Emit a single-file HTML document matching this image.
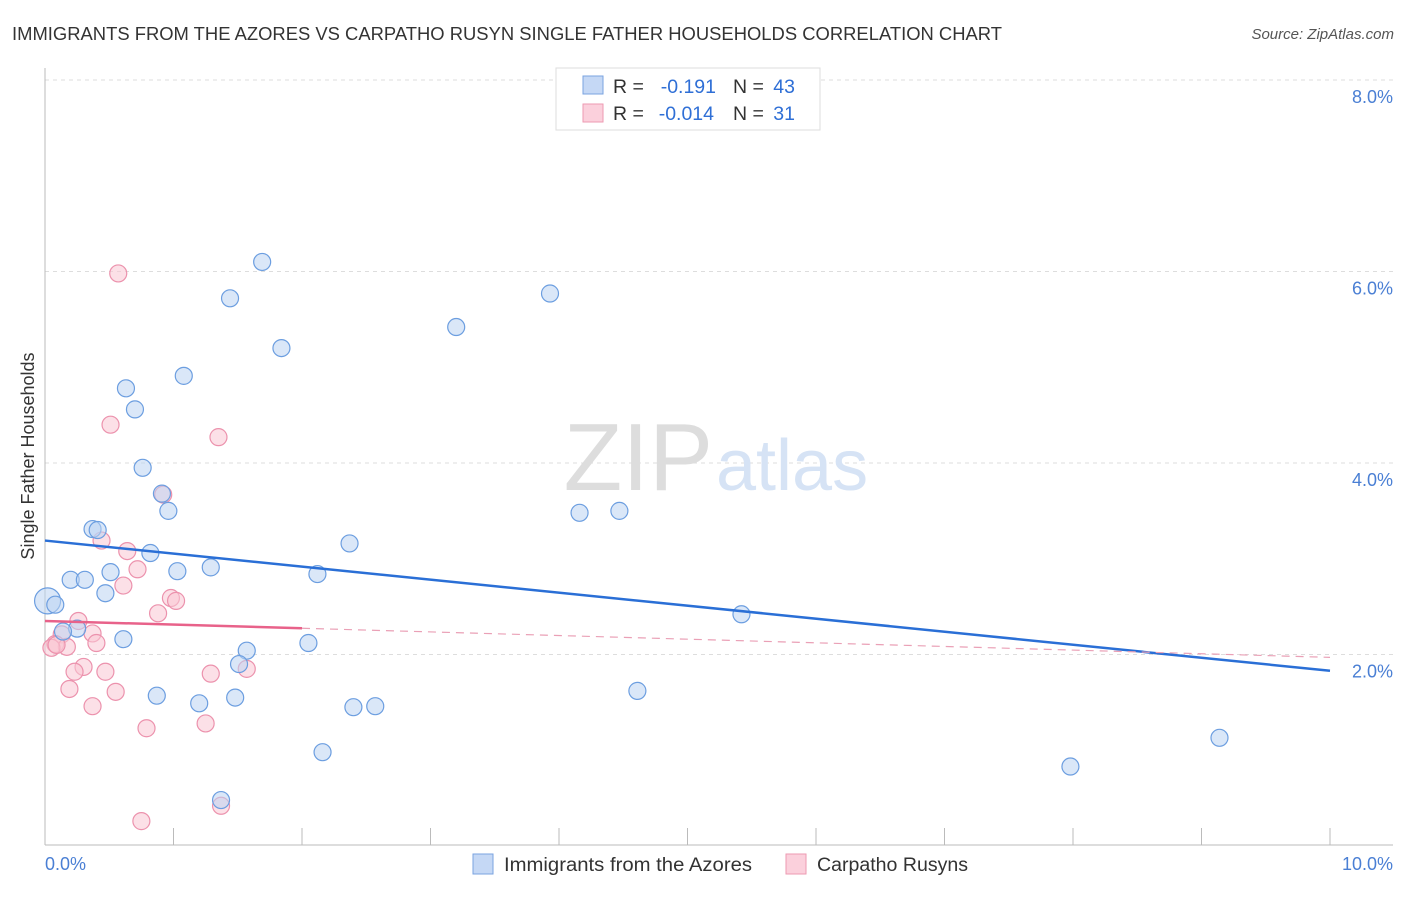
<!DOCTYPE html>
<html><head><meta charset="utf-8"><style>
body{margin:0;background:#fff;font-family:"Liberation Sans",sans-serif;}
svg text{font-family:"Liberation Sans",sans-serif;}
</style></head><body>
<svg width="1406" height="892">
<text x="12" y="40" font-size="18" fill="#333" textLength="990" lengthAdjust="spacingAndGlyphs">IMMIGRANTS FROM THE AZORES VS CARPATHO RUSYN SINGLE FATHER HOUSEHOLDS CORRELATION CHART</text>
<text x="1394" y="39" font-size="15" fill="#555" font-style="italic" text-anchor="end">Source: ZipAtlas.com</text>
<g id="grid"></g>
<text x="713" y="490" font-size="96" fill="#ddd" text-anchor="end" font-family="Liberation Serif">ZIP</text>
<text x="716" y="490" font-size="72" fill="#d6e3f5">atlas</text>
<g id="marks"></g>
<text x="34" y="456" font-size="18" fill="#333" text-anchor="middle" transform="rotate(-90 34 456)">Single Father Households</text>
<text x="45" y="870" font-size="18" fill="#4a7fd4">0.0%</text>
<text x="1393" y="870" font-size="18" fill="#4a7fd4" text-anchor="end">10.0%</text>
<g>
<rect x="556" y="68" width="264" height="62" fill="#fff" stroke="#ddd"/>
<rect x="583" y="76" width="20" height="18" fill="#c5d8f5" stroke="#7aa3e0"/>
<rect x="583" y="104" width="20" height="18" fill="#fbd0dc" stroke="#ee9ab2"/>
<text y="93" font-size="19.5" fill="#333"><tspan x="613">R =</tspan><tspan x="716" text-anchor="end" fill="#2f6fd6">-0.191</tspan><tspan x="733">N =</tspan><tspan x="795" text-anchor="end" fill="#2f6fd6">43</tspan></text>
<text y="120" font-size="19.5" fill="#333"><tspan x="613">R =</tspan><tspan x="714" text-anchor="end" fill="#2f6fd6">-0.014</tspan><tspan x="733">N =</tspan><tspan x="795" text-anchor="end" fill="#2f6fd6">31</tspan></text>
</g>
<g>
<rect x="473" y="854" width="20" height="20" fill="#c5d8f5" stroke="#7aa3e0"/>
<text x="504" y="871" font-size="19" fill="#333" textLength="248" lengthAdjust="spacingAndGlyphs">Immigrants from the Azores</text>
<rect x="786" y="854" width="20" height="20" fill="#fbd0dc" stroke="#ee9ab2"/>
<text x="817" y="871" font-size="19" fill="#333" textLength="151" lengthAdjust="spacingAndGlyphs">Carpatho Rusyns</text>
</g>
</svg>
<script>
const yTicks=[2,4,6,8];
const yTickLabels=["2.0%","4.0%","6.0%","8.0%"];
const xTicks=[0,1,2,3,4,5,6,7,8,9,10];
const blueX=[1.69,1.44,3.93,3.20,1.84,0.63,1.08,0.70,0.76,0.91,0.96,0.37,0.41,0.82,1.03,1.29,0.51,0.20,0.31,0.47,0.02,0.08,2.12,2.37,4.16,4.47,5.42,0.61,0.25,0.14,2.05,1.57,1.51,0.87,1.20,1.48,2.40,2.57,2.16,4.61,7.98,9.14,1.37];
const blueY=[6.10,5.72,5.77,5.42,5.20,4.78,4.91,4.56,3.95,3.68,3.50,3.31,3.30,3.06,2.87,2.91,2.86,2.78,2.78,2.64,2.56,2.52,2.84,3.16,3.48,3.50,2.42,2.16,2.27,2.24,2.12,2.04,1.90,1.57,1.49,1.55,1.45,1.46,0.98,1.62,0.83,1.13,0.48];
const pinkX=[0.57,0.51,1.35,0.92,0.44,0.64,0.72,0.61,0.88,0.98,1.02,0.26,0.37,0.13,0.08,0.17,0.40,0.05,0.30,0.23,0.47,1.29,1.57,0.19,0.55,0.37,1.25,0.79,0.75,1.37,0.09];
const pinkY=[5.98,4.40,4.27,3.67,3.19,3.08,2.89,2.72,2.43,2.59,2.56,2.35,2.22,2.21,2.11,2.08,2.12,2.07,1.87,1.82,1.82,1.80,1.85,1.64,1.61,1.46,1.28,1.23,0.26,0.42,2.10];
const blueTrend=[3.19,1.83];
const pinkTrend=[2.35,1.97];
const pinkSolidEnd=2.0;
const NS="http://www.w3.org/2000/svg";
const sx=v=>45+v*128.5, sy=v=>846-v*95.75;
function mk(t,a,p){const e=document.createElementNS(NS,t);for(const k in a)e.setAttribute(k,a[k]);p.appendChild(e);return e;}
const grid=document.getElementById('grid'), marks=document.getElementById('marks');
yTicks.forEach((v,i)=>{
 const l=mk('line',{x1:45,x2:1393,y1:sy(v),y2:sy(v),stroke:'#ddd','stroke-dasharray':'4,4'},grid);
 
 
 const t=mk('text',{x:1393,y:sy(v)+23,'font-size':18,fill:'#4a7fd4','text-anchor':'end'},grid);
 t.textContent=yTickLabels[i];
 
 
});
const ax=mk('line',{x1:45,x2:45,y1:68,y2:845,stroke:'#bbb'},grid);


const bx=mk('line',{x1:45,x2:1393,y1:845,y2:845,stroke:'#bbb'},grid);


xTicks.forEach(v=>{
 const l=mk('line',{x1:sx(v),x2:sx(v),y1:828,y2:845,stroke:'#bbb'},grid);
 
 
});
function pts(X,Y,fill,stroke,name){X.forEach((x,i)=>{
 const c=mk('circle',{cx:sx(x),cy:sy(Y[i]),r:(i==20&&name=='azores-point')?13:8.5,fill:fill,'fill-opacity':0.55,stroke:stroke,'stroke-width':1.2},marks);
 
 
});}
pts(pinkX,pinkY,'#f9c6d4','#ec92ad','rusyn-point');
pts(blueX,blueY,'#bcd3f3','#6c9ee0','azores-point');
const bt=mk('line',{x1:sx(0),y1:sy(blueTrend[0]),x2:sx(10),y2:sy(blueTrend[1]),stroke:'#2a6fd6','stroke-width':2.5},marks);


const pm=pinkTrend[0]+(pinkTrend[1]-pinkTrend[0])*pinkSolidEnd/10;
const pt=mk('line',{x1:sx(0),y1:sy(pinkTrend[0]),x2:sx(pinkSolidEnd),y2:sy(pm),stroke:'#e8628a','stroke-width':2.5},marks);


const pd=mk('line',{x1:sx(pinkSolidEnd),y1:sy(pm),x2:sx(10),y2:sy(pinkTrend[1]),stroke:'#eaa0b6','stroke-width':1.2,'stroke-dasharray':'8,6'},marks);


</script>
</body></html>
